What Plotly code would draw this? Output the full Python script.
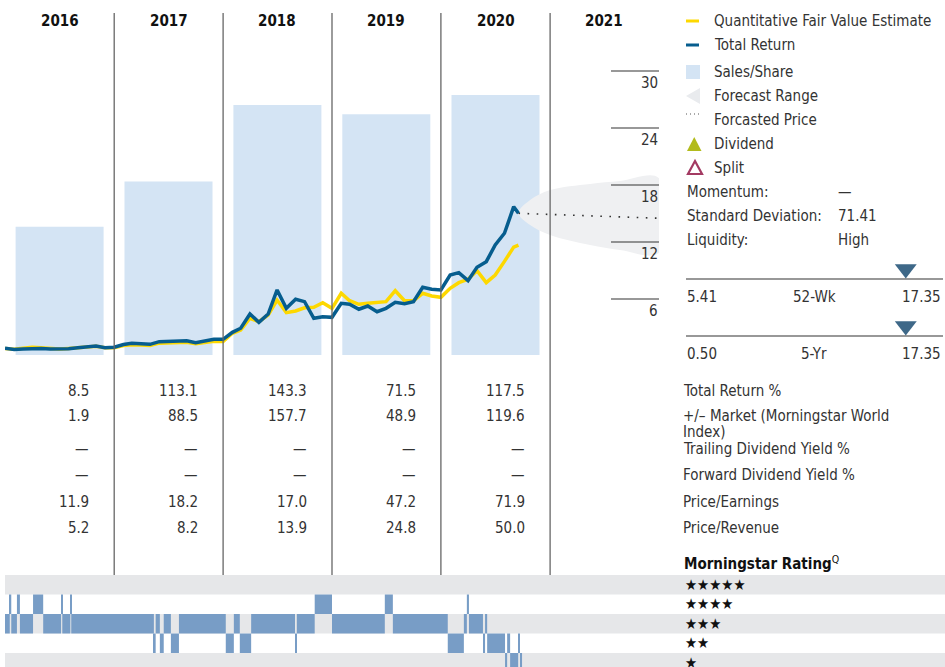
import pandas as pd
import plotly.graph_objects as go

W, H = 945, 667
FONT = "Liberation Sans Narrow, DejaVu Sans Condensed, Arial Narrow, sans-serif"

# ---------------- data ----------------
years = [2016, 2017, 2018, 2019, 2020, 2021]
sales_per_share = [0.153, 0.207, 0.298, 0.287, 0.310]

price_dates = list(pd.date_range("2016-01-01", periods=57, freq="MS").strftime("%Y-%m-%d")) + ["2020-09-17"]
total_return = [0.81, 0.68, 0.74, 0.79, 0.79, 0.74, 0.71, 0.76, 0.86, 0.95, 1.05, 0.87,
                0.92, 1.21, 1.34, 1.28, 1.23, 1.51, 1.55, 1.58, 1.60, 1.40, 1.63, 1.76,
                1.76, 2.49, 2.92, 4.42, 3.55, 4.42, 6.95, 5.02, 5.97, 5.72, 3.97, 4.14,
                4.07, 5.55, 5.44, 4.92, 5.26, 4.66, 5.02, 5.65, 5.51, 5.72, 7.23, 7.02,
                6.95, 8.53, 8.77, 7.93, 9.34, 9.93, 11.68, 12.92, 15.72, 15.02]
fair_value = [0.79, 0.70, 0.82, 0.92, 0.88, 0.80, 0.74, 0.80, 0.88, 0.95, 1.02, 0.87,
              0.88, 1.10, 1.18, 1.16, 1.10, 1.35, 1.40, 1.42, 1.45, 1.28, 1.45, 1.55,
              1.53, 2.39, 2.74, 3.97, 3.61, 4.32, 5.89, 4.56, 4.74, 5.08, 5.13, 5.61,
              5.02, 6.60, 5.82, 5.44, 5.55, 5.65, 5.72, 6.87, 5.82, 5.82, 6.60, 6.32,
              6.18, 7.13, 7.72, 8.07, 8.98, 7.72, 8.53, 9.96, 11.46, 11.68]

forecast_dates = ["2020-09-17", "2021-12-31"]
forecast_price = [15.02, 14.5]
range_dates = ["2020-09-17", "2020-10-26", "2021-01-01", "2021-05-15", "2021-08-23", "2021-12-31"]
range_high = [15.05, 16.42, 17.47, 18.11, 18.42, 18.74]
range_low = [15.05, 13.79, 12.74, 11.68, 11.16, 10.84]

price_ticks = [6, 12, 18, 24, 30]

row_labels = ["Total Return %", "+/\u2013 Market (Morningstar World", "Trailing Dividend Yield %",
              "Forward Dividend Yield %", "Price/Earnings", "Price/Revenue"]
total_return_pct = ["8.5", "113.1", "143.3", "71.5", "117.5"]
plus_minus_market = ["1.9", "88.5", "157.7", "48.9", "119.6"]
trailing_div_yield = ["\u2014", "\u2014", "\u2014", "\u2014", "\u2014"]
forward_div_yield = ["\u2014", "\u2014", "\u2014", "\u2014", "\u2014"]
price_earnings = ["11.9", "18.2", "17.0", "47.2", "71.9"]
price_revenue = ["5.2", "8.2", "13.9", "24.8", "50.0"]
table_values = [total_return_pct, plus_minus_market, trailing_div_yield,
                forward_div_yield, price_earnings, price_revenue]

legend_labels = ["Quantitative Fair Value Estimate", "Total Return", "Sales/Share",
                 "Forecast Range", "Forcasted Price", "Dividend", "Split"]
stat_labels = ["Momentum:", "Standard Deviation:", "Liquidity:"]
stat_values = ["\u2014", "71.41", "High"]

range_names = ["52-Wk", "5-Yr"]
range_lows = [5.41, 0.50]
range_highs = [17.35, 17.35]
range_marker = [15.62, 14.91]

rating_start = ["2016-01-01", "2016-01-17", "2016-01-22", "2016-02-10", "2016-02-20", "2016-04-04",
                "2016-05-08", "2016-07-07", "2016-07-11", "2016-08-07", "2016-08-10", "2017-05-14",
                "2017-05-20", "2017-06-03", "2017-06-16", "2017-07-10", "2017-08-06", "2018-01-10",
                "2018-02-06", "2018-02-26", "2018-04-05", "2018-08-30", "2018-09-05", "2018-11-04",
                "2019-01-01", "2019-06-27", "2019-07-24", "2020-01-24", "2020-03-18", "2020-03-28",
                "2020-04-04", "2020-05-21", "2020-05-28", "2020-06-04", "2020-08-03", "2020-08-10",
                "2020-08-20", "2020-09-16", "2020-09-22"]
rating_end = rating_start[1:] + ["2020-09-29"]
rating_value = [3, 4, 3, 4, 3, 4, 3, 4, 3, 4, 3, 2, 3, 2, 3, 2, 3, 2, 3, 2, 3, 2, 3, 4,
                3, 4, 3, 2, 3, 4, 3, 2, 3, 2, 1, 2, 1, 2, 1]
rating_labels = ["\u2605\u2605\u2605\u2605\u2605", "\u2605\u2605\u2605\u2605", "\u2605\u2605\u2605",
                 "\u2605\u2605", "\u2605"]

# ---------------- helpers ----------------
def px(x):
    return x / W

def py(y):
    return 1 - y / H

YELLOW = "#fdd800"
BLUE = "#065d8e"
BAR = "#d4e4f4"
SHADE = "#eff0f2"
RATE = "#789dc6"
BAND = "#e6e7e9"
TXT = "#333333"

fig = go.Figure()

# Sales/share bars (base axis)
fig.add_trace(go.Bar(x=[f"{y}-07-02" for y in years[:5]], y=sales_per_share,
                     width=88 * 3.352 * 86400000, marker=dict(color=BAR, line=dict(width=0)),
                     xaxis="x", yaxis="y", hoverinfo="skip"))
# Forecast range
fig.add_trace(go.Scatter(x=range_dates + range_dates[::-1], y=range_high + range_low[::-1],
                         fill="toself", fillcolor=SHADE, mode="lines",
                         line=dict(width=0, shape="spline", color=SHADE),
                         xaxis="x", yaxis="y2", hoverinfo="skip"))
# Forecast price dotted
fig.add_trace(go.Scatter(x=forecast_dates, y=forecast_price, mode="lines",
                         line=dict(color="#333333", width=1.6, dash="1.6px,7.5px"),
                         xaxis="x", yaxis="y2", hoverinfo="skip"))
# Fair value and total return
fig.add_trace(go.Scatter(x=price_dates, y=fair_value, mode="lines",
                         line=dict(color=YELLOW, width=3.5), xaxis="x", yaxis="y2"))
fig.add_trace(go.Scatter(x=price_dates, y=total_return, mode="lines",
                         line=dict(color=BLUE, width=3.5), xaxis="x", yaxis="y2"))

# Rating bars
starts = pd.to_datetime(pd.Series(rating_start))
ends = pd.to_datetime(pd.Series(rating_end))
durations = ((ends - starts).dt.total_seconds() * 1000).tolist()
fig.add_trace(go.Bar(orientation="h", base=rating_start, x=durations, y=rating_value, width=1,
                     marker=dict(color=RATE, line=dict(width=0)), xaxis="x5", yaxis="y5",
                     hoverinfo="skip"))

# 52-wk / 5-yr markers
fig.add_trace(go.Scatter(x=[range_marker[0]], y=[0.5], mode="markers",
                         marker=dict(symbol="triangle-down", size=19, color="#3e6888"),
                         xaxis="x3", yaxis="y3"))
fig.add_trace(go.Scatter(x=[range_marker[1]], y=[0.5], mode="markers",
                         marker=dict(symbol="triangle-down", size=19, color="#3e6888"),
                         xaxis="x4", yaxis="y4"))

shapes = []
annotations = []

def ann(text, x, y, xanchor="left", size=15, color=TXT, xref="paper", yref="paper", **kw):
    annotations.append(dict(text=text, x=x, y=y, xref=xref, yref=yref, xanchor=xanchor,
                            yanchor=kw.pop("yanchor", "middle"), showarrow=False,
                            font=dict(family=FONT, size=size, color=color), **kw))

# Rating gray bands
for r in [5, 3, 1]:
    shapes.append(dict(type="rect", xref="paper", yref="y5", x0=px(5), x1=1, y0=r - 0.5, y1=r + 0.5,
                       fillcolor=BAND, line=dict(width=0), layer="below"))

# Year separators
for y in years[1:]:
    shapes.append(dict(type="line", xref="x", yref="paper", x0=f"{y}-01-01", x1=f"{y}-01-01",
                       y0=py(575), y1=py(13), line=dict(color="#666666", width=1.3)))

# Price tick lines and labels
for v in price_ticks:
    shapes.append(dict(type="line", xref="paper", yref="y2", x0=px(611), x1=px(659), y0=v, y1=v,
                       line=dict(color="#333333", width=1.2)))
    ann(str(v), px(660), v, xanchor="right", yref="y2", yanchor="top", size=15, yshift=-1)

# Year headers
for y in years:
    ann(f"<b>{y}</b>", f"{y}-07-02", py(21), xanchor="center", xref="x", size=15, color="#111111")

# Table
row_y = [391, 416, 449, 475, 502, 528]
for vals, ry in zip(table_values, row_y):
    for y, v in zip(years[:5], vals):
        ann(v, f"{y + 1}-01-01", py(ry), xanchor="right", xref="x", size=15, xshift=-23)
for lab, ry in zip(row_labels, row_y):
    ann(lab, px(681), py(ry), size=15)
ann("Index)", px(681), py(432), size=15)

# Legend
leg_y = [21, 45, 72, 96, 120, 144, 168]
for lab, ly in zip(legend_labels, leg_y):
    ann(lab, px(712), py(ly), size=15)
shapes.append(dict(type="line", xref="paper", yref="paper", x0=px(686), x1=px(699), y0=py(21), y1=py(21),
                   line=dict(color=YELLOW, width=3)))
shapes.append(dict(type="line", xref="paper", yref="paper", x0=px(686), x1=px(699), y0=py(45), y1=py(45),
                   line=dict(color=BLUE, width=3)))
shapes.append(dict(type="rect", xref="paper", yref="paper", x0=px(686), x1=px(700), y0=py(79), y1=py(65),
                   fillcolor=BAR, line=dict(width=0)))
shapes.append(dict(type="path", xref="paper", yref="paper",
                   path=f"M {px(686)} {py(96)} L {px(700)} {py(88)} L {px(700)} {py(104)} Z",
                   fillcolor="#e9ebee", line=dict(width=0)))
shapes.append(dict(type="line", xref="paper", yref="paper", x0=px(686), x1=px(700), y0=py(114), y1=py(114),
                   line=dict(color="#555555", width=1, dash="1px,3px")))
shapes.append(dict(type="path", xref="paper", yref="paper",
                   path=f"M {px(687)} {py(151)} L {px(701.5)} {py(151)} L {px(694.25)} {py(137)} Z",
                   fillcolor="#b2bb1c", line=dict(width=0)))
shapes.append(dict(type="path", xref="paper", yref="paper",
                   path=f"M {px(688)} {py(174)} L {px(702)} {py(174)} L {px(695)} {py(161)} Z",
                   fillcolor="rgba(0,0,0,0)", line=dict(color="#a33a62", width=2.2)))
for lab, val, ly in zip(stat_labels, stat_values, [192, 216, 240]):
    ann(lab, px(685), py(ly), size=15)
    ann(val, px(836), py(ly), size=15)

# 52-wk / 5-yr ranges
for name, lo, hi, ly in zip(range_names, range_lows, range_highs, [279, 336]):
    shapes.append(dict(type="line", xref="paper", yref="paper", x0=px(686), x1=px(943), y0=py(ly), y1=py(ly),
                       line=dict(color="#333333", width=1.2)))
    ann(f"{lo:.2f}", px(685), py(ly + 18), size=15)
    ann(name, px(814), py(ly + 18), xanchor="center", size=15)
    ann(f"{hi:.2f}", px(943), py(ly + 18), xanchor="right", size=15)

# Rating header and stars
ann("<b>Morningstar Rating</b><sup>Q</sup>", px(682), py(563), size=15, color="#111111")
for lab, r in zip(rating_labels, [5, 4, 3, 2, 1]):
    ann(lab, px(683), r, yref="y5", size=15, color="#111111")

hidden = dict(visible=False, showgrid=False, zeroline=False, fixedrange=True)
fig.update_layout(
    width=W, height=H, autosize=False, margin=dict(l=0, r=0, t=0, b=0),
    paper_bgcolor="white", plot_bgcolor="rgba(0,0,0,0)", showlegend=False,
    barmode="overlay",
    xaxis=dict(type="date", domain=[px(5), px(659)], range=["2016-01-01", "2022-01-01"], anchor="y", **hidden),
    yaxis=dict(domain=[py(355), py(13)], range=[0, 0.4078], anchor="x", **hidden),
    yaxis2=dict(overlaying="y", range=[0.105, 36.105], anchor="x", **hidden),
    xaxis3=dict(domain=[px(686), px(943)], range=[5.41, 17.35], anchor="y3", **hidden),
    yaxis3=dict(domain=[py(284), py(254)], range=[0, 1], anchor="x3", **hidden),
    xaxis4=dict(domain=[px(686), px(943)], range=[0.50, 17.35], anchor="y4", **hidden),
    yaxis4=dict(domain=[py(341), py(311)], range=[0, 1], anchor="x4", **hidden),
    xaxis5=dict(type="date", domain=[px(5), px(659)], range=["2016-01-01", "2022-01-01"], anchor="y5", **hidden),
    yaxis5=dict(domain=[0, py(575)], range=[0.782, 5.5], anchor="x5", **hidden),
    shapes=shapes, annotations=annotations,
    font=dict(family=FONT, color=TXT),
)

fig.write_html("out.html", config={"displayModeBar": False},
               post_script="document.body.style.margin='0';document.body.style.overflow='hidden';")
